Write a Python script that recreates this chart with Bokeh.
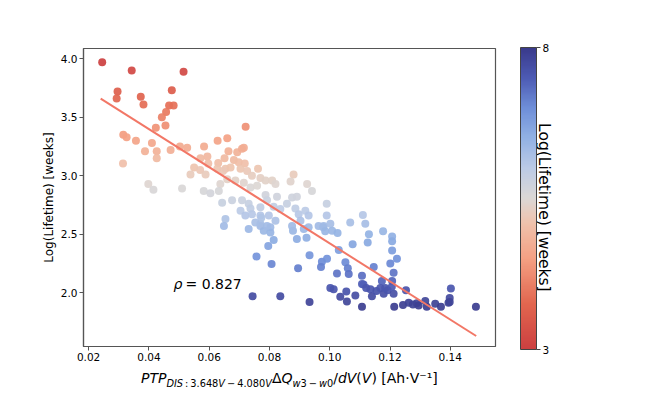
import numpy as np
from bokeh.plotting import figure
from bokeh.layouts import column
from bokeh.models import (LinearColorMapper, ColorBar, FixedTicker, Label, LinearAxis,
                          NumeralTickFormatter, ColumnDataSource, Div)
from bokeh.embed import file_html
from bokeh.resources import INLINE

# ---------------- data ----------------
ptp_x = [
    0.0245, 0.0343, 0.0515, 0.0296, 0.0293, 0.0373, 0.0382, 0.0476, 0.0467, 0.0482,
    0.0457, 0.0443, 0.0455, 0.0423, 0.0315, 0.0326, 0.0357, 0.0387, 0.0410, 0.0426,
    0.0426, 0.0314, 0.0472, 0.0503, 0.0527, 0.0583, 0.0628, 0.0660, 0.0664, 0.0594,
    0.0571, 0.0651, 0.0550, 0.0570, 0.0630, 0.0597, 0.0654, 0.0398, 0.0415,
    0.0721, 0.0693, 0.0709, 0.0715, 0.0682, 0.0698, 0.0718, 0.0588, 0.0538, 0.0627,
    0.0646, 0.0671, 0.0704, 0.0726, 0.0762, 0.0660, 0.0687, 0.0715, 0.0742, 0.0770,
    0.0787, 0.0809, 0.0820, 0.0880, 0.0870, 0.0925, 0.0941, 0.0637, 0.0737, 0.0759,
    0.0510, 0.0582, 0.0604, 0.0632, 0.0787, 0.0825, 0.0875, 0.0891, 0.0643, 0.0676,
    0.0709, 0.0731, 0.0770, 0.0737, 0.0792, 0.0814, 0.0836, 0.0704, 0.0720, 0.0742,
    0.0770, 0.0798, 0.0654, 0.0649, 0.0858, 0.0886, 0.0897, 0.0919, 0.0990, 0.0980,
    0.0990, 0.0903, 0.0930, 0.0731, 0.0770, 0.0803,
    0.1068, 0.1110, 0.1118, 0.1177, 0.1130, 0.1126, 0.1207, 0.1207, 0.1223, 0.1207,
    0.1212, 0.0963, 0.0978, 0.1002, 0.1008, 0.1026, 0.0985, 0.1030, 0.0974, 0.0991,
    0.0971, 0.1052, 0.1060, 0.1063, 0.1024, 0.1107, 0.1112, 0.1146, 0.0836, 0.0933,
    0.0895, 0.0933, 0.0807, 0.0757, 0.0814, 0.0796, 0.0781, 0.0803, 0.0770, 0.0792,
    0.0878, 0.0891, 0.0875, 0.0914, 0.0923, 0.0930, 0.0773, 0.0820, 0.0753,
    0.1076, 0.1201, 0.1173, 0.1207, 0.1002, 0.1013, 0.1055, 0.1057, 0.1035, 0.1085,
    0.1107, 0.1121, 0.1135, 0.1140, 0.1155, 0.1168, 0.1179, 0.1192, 0.1212, 0.1184,
    0.1206, 0.1107, 0.1253, 0.1214, 0.1243, 0.1262, 0.1276, 0.1289, 0.1295, 0.1317,
    0.1322, 0.1350, 0.1369, 0.1394, 0.1398, 0.1402, 0.1485, 0.0744, 0.1398,
]
log_lifetime = [
    3.97, 3.90, 3.89, 3.72, 3.66, 3.675, 3.61, 3.73, 3.60, 3.60,
    3.545, 3.50, 3.43, 3.41, 3.35, 3.33, 3.30, 3.21, 3.28, 3.21,
    3.15, 3.105, 3.22, 3.25, 3.24, 3.25, 3.30, 3.32, 3.21, 3.165,
    3.15, 3.15, 3.07, 3.05, 3.11, 3.105, 3.06, 2.93, 2.88,
    3.42, 3.20, 3.23, 3.24, 3.135, 3.115, 3.105, 3.01, 3.01, 3.06,
    3.04, 3.07, 3.06, 3.04, 3.06, 2.97, 2.96, 2.94, 3.00, 2.98,
    2.96, 2.96, 2.93, 3.01, 2.95, 2.93, 2.87, 2.93, 2.90, 2.915,
    2.89, 2.87, 2.85, 2.87, 2.835, 2.82, 2.815, 2.82, 2.77, 2.79,
    2.79, 2.76, 2.73, 2.72, 2.79, 2.735, 2.715, 2.70, 2.66, 2.67,
    2.66, 2.66, 2.63, 2.57, 2.76, 2.72, 2.67, 2.70, 2.76, 2.57,
    2.66, 2.615, 2.56, 2.545, 2.57, 2.56,
    2.60, 2.665, 2.59, 2.525, 2.50, 2.43, 2.48, 2.44, 2.29, 2.36,
    2.17, 2.57, 2.56, 2.59, 2.53, 2.51, 2.525, 2.365, 2.265, 2.29,
    2.22, 2.26, 2.21, 2.16, 2.165, 2.145, 2.07, 2.22, 1.97, 1.92,
    2.21, 2.32, 2.245, 2.31, 2.45, 2.40, 2.53, 2.515, 2.59, 2.57,
    2.53, 2.46, 2.57, 2.545, 2.47, 2.66, 2.64, 2.615, 2.60,
    2.415, 2.25, 2.10, 2.10, 2.04, 2.03, 2.01, 1.925, 1.965, 1.975,
    2.075, 2.04, 2.03, 1.97, 2.015, 2.04, 1.99, 2.02, 1.99, 2.04,
    2.05, 1.88, 2.02, 1.88, 1.895, 1.915, 1.90, 1.91, 1.89, 1.93,
    1.88, 1.905, 1.88, 1.915, 1.955, 2.035, 1.88, 1.97, 1.92,
]
fit_x = [0.0240, 0.1486]
fit_y = [3.66, 1.63]
x_ticks = [0.02, 0.04, 0.06, 0.08, 0.10, 0.12, 0.14]
y_ticks = [2.0, 2.5, 3.0, 3.5, 4.0]
cbar_ticks = [3, 8]
cbar_low, cbar_high = 3, 8
rho_value = "0.827"
y_label = "Log(Lifetime) [weeks]"
cbar_label = "Log(Lifetime) [weeks]"

# ---------------- style ----------------
FONT = "DejaVu Sans"
FRAME_L, FRAME_T, FRAME_W, FRAME_H = 83, 48, 412, 298   # canvas coords
FRAME_B = FRAME_T + FRAME_H
TOTAL_W, FIG_H, LABEL_H = 656, 368, 23


def interp_palette(stops, n=256):
    pos = np.array([s[0] for s in stops])
    rgb = np.array([[int(c[i:i + 2], 16) for i in (1, 3, 5)] for _, c in stops], float)
    out = []
    for t in np.linspace(0, 1, n):
        r, g, b = (np.interp(t, pos, rgb[:, k]) for k in range(3))
        out.append("#%02x%02x%02x" % (int(round(r)), int(round(g)), int(round(b))))
    return out


# red (low / bottom) -> blue (high / top)
cbar_palette = interp_palette([
    (0.00, "#cc4040"), (0.15, "#e2664f"), (0.30, "#f4a083"), (0.42, "#efc3ad"),
    (0.50, "#dcd8d5"), (0.60, "#bccbe6"), (0.70, "#92b2e4"), (0.80, "#6f8fd9"),
    (0.90, "#4d5bb4"), (1.00, "#3a3a8b"),
])
point_palette = cbar_palette[::-1]

p = figure(frame_width=FRAME_W, frame_height=FRAME_H,
           min_border_left=FRAME_L, min_border_top=FRAME_T,
           min_border_right=TOTAL_W - FRAME_L - FRAME_W,
           min_border_bottom=FIG_H - FRAME_T - FRAME_H,
           x_range=(0.0183, 0.155), y_range=(1.54, 4.088),
           output_backend="svg", toolbar_location=None)
p.grid.visible = False
p.outline_line_color = "#555555"
p.outline_line_width = 1.2
p.background_fill_color = "white"

for ax in (p.xaxis[0], p.yaxis[0]):
    ax.axis_line_color = "#555555"
    ax.axis_line_width = 1.2
    ax.major_tick_line_color = "#555555"
    ax.major_tick_out = 4
    ax.major_tick_in = 0
    ax.minor_tick_line_color = None
    ax.major_label_text_font = FONT
    ax.major_label_text_font_size = "10.5px"
    ax.major_label_text_color = "black"

p.xaxis.ticker = FixedTicker(ticks=x_ticks)
p.xaxis.formatter = NumeralTickFormatter(format="0.00")
p.xaxis.major_label_standoff = 2
yax = p.yaxis[0]
yax.ticker = FixedTicker(ticks=y_ticks)
yax.formatter = NumeralTickFormatter(format="0.0")
yax.major_label_standoff = 2
yax.axis_label = y_label
yax.axis_label_text_font = FONT
yax.axis_label_text_font_style = "normal"
yax.axis_label_text_font_size = "12px"
yax.axis_label_text_color = "black"
yax.axis_label_standoff = 2

src = ColumnDataSource(dict(x=ptp_x, y=log_lifetime))
pmap = LinearColorMapper(palette=point_palette, low=1.85, high=3.97)
p.scatter("x", "y", source=src, size=8, line_color=None,
          fill_color={"field": "y", "transform": pmap}, fill_alpha=0.92)
p.line(fit_x, fit_y, line_color="#f27766", line_width=2)

# rho annotation (inside the frame)
for txt, px, it in (("ρ", 173, True), ("= " + rho_value, 185, False)):
    p.add_layout(Label(x=px, y=283, x_units="canvas", y_units="canvas", text=txt,
                       text_font=FONT, text_font_size="14px",
                       text_font_style="italic" if it else "normal",
                       text_color="black", text_baseline="middle"))

# colour bar
cmap = LinearColorMapper(palette=cbar_palette, low=cbar_low, high=cbar_high)
cb = ColorBar(color_mapper=cmap, location=(520 - FRAME_L, FRAME_B - 349),
              width=16, height=302, padding=0, margin=0,
              ticker=FixedTicker(ticks=cbar_ticks),
              major_label_text_font=FONT, major_label_text_font_size="10.5px",
              major_label_text_color="black",
              major_tick_in=0, major_tick_out=4, major_tick_line_color="#444444",
              minor_tick_line_color=None, label_standoff=2,
              bar_line_color="#444444", bar_line_width=1,
              border_line_color=None, background_fill_alpha=0)
p.add_layout(cb)

# colour bar label: a tick-less axis on the right carrying only its label
# (leading no-break spaces nudge it a little below the frame's centre, as in the reference)
cb_axis = LinearAxis(ticker=FixedTicker(ticks=[]), axis_label="\u00a0" * 4 + cbar_label,
                     axis_line_color=None, major_tick_line_color=None,
                     minor_tick_line_color=None, major_tick_out=0, major_tick_in=0,
                     major_label_standoff=0, major_label_text_font_size="1px",
                     axis_label_standoff=39, axis_label_text_font=FONT,
                     axis_label_text_font_size="15.5px",
                     axis_label_text_font_style="normal", axis_label_text_color="black")
p.add_layout(cb_axis, "right")

# x-axis label with italics and subscripts (HTML text beneath the plot)
SUBSTYLE = "font-size:9.8px;vertical-align:-4px;"
xlabel_html = (
    "<div style=\"font-family:'DejaVu Sans';font-size:14px;line-height:20px;color:black;"
    "white-space:nowrap;padding-left:141px;margin:0;\">"
    "<i>PTP</i>"
    f"<span style=\"{SUBSTYLE}\"><i>DIS</i>&#8201;:&#8201;3.648<i>V</i>&#8201;&#8722;&#8201;4.080<i>V</i></span>"
    "&#916;<i>Q</i>"
    f"<span style=\"{SUBSTYLE}\"><i>w</i>3&#8201;&#8722;&#8201;<i>w</i>0</span>"
    "/<i>dV</i>(<i>V</i>) [Ah&#183;V&#8315;&#185;]"
    "</div>"
)
xlabel = Div(text=xlabel_html, width=TOTAL_W, height=LABEL_H, margin=0)

layout = column(p, xlabel, spacing=0)
open("out.html", "w").write(file_html(layout, INLINE))
